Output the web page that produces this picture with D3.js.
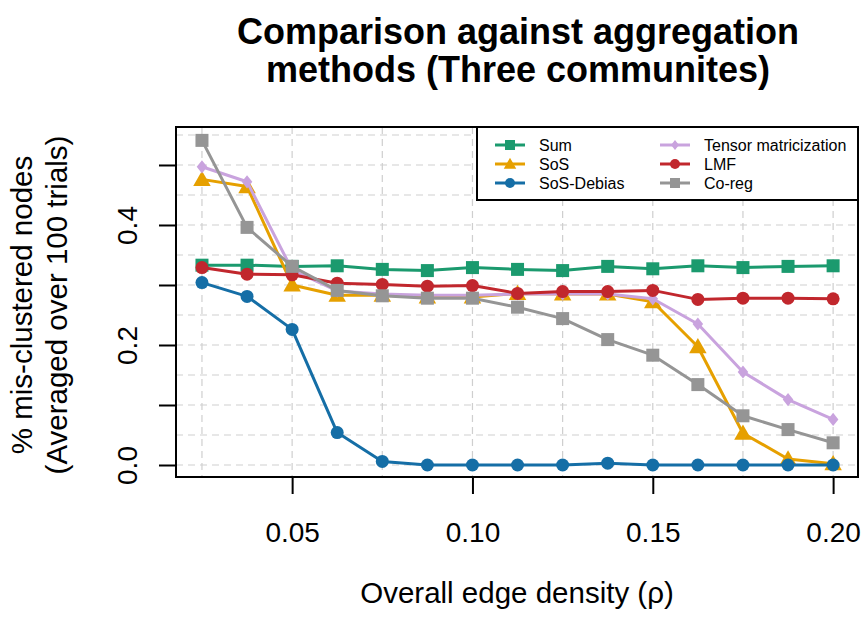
<!DOCTYPE html>
<html>
<head>
<meta charset="utf-8">
<script src="https://cdn.jsdelivr.net/npm/d3@7"></script>
<style>
  html, body { margin: 0; padding: 0; background: #fff; }
  svg { display: block; font-family: "Liberation Sans", Arial, sans-serif; }
</style>
</head>
<body>
<svg id="chart" width="867" height="618"></svg>
<script>
const densities = [0.025, 0.0375, 0.05, 0.0625, 0.075, 0.0875, 0.10, 0.1125, 0.125, 0.1375, 0.15, 0.1625, 0.175, 0.1875, 0.20];
const sumVals    = [0.333, 0.333, 0.331, 0.332, 0.326, 0.324, 0.329, 0.326, 0.324, 0.331, 0.327, 0.332, 0.329, 0.331, 0.332];
const sosVals    = [0.476, 0.464, 0.300, 0.283, 0.283, 0.280, 0.280, 0.286, 0.285, 0.285, 0.272, 0.197, 0.053, 0.010, 0.002];
const debiasVals = [0.304, 0.281, 0.226, 0.054, 0.006, 0.000, 0.000, 0.000, 0.000, 0.003, 0.000, 0.000, 0.000, 0.000, 0.000];
const tensorVals = [0.497, 0.472, 0.325, 0.290, 0.285, 0.283, 0.283, 0.285, 0.285, 0.285, 0.277, 0.235, 0.155, 0.109, 0.076];
const lmfVals    = [0.329, 0.318, 0.317, 0.303, 0.301, 0.298, 0.299, 0.286, 0.289, 0.289, 0.291, 0.276, 0.278, 0.278, 0.277];
const coregVals  = [0.541, 0.396, 0.331, 0.291, 0.282, 0.278, 0.278, 0.263, 0.244, 0.209, 0.183, 0.134, 0.082, 0.059, 0.037];
const seriesNames = ["Sum", "SoS", "SoS-Debias", "Tensor matricization", "LMF", "Co-reg"];
const xTicks = [0.05, 0.10, 0.15, 0.20];
const yTicks = [0.0, 0.1, 0.2, 0.3, 0.4, 0.5];
const yTickLabels = ["0.0", "", "0.2", "", "0.4", ""];
const titleLines = ["Comparison against aggregation", "methods (Three communites)"];
const yTitleLines = ["% mis-clustered nodes", "(Averaged over 100 trials)"];
const xTitle = "Overall edge density (\u03c1)";

const series = [
  {name: seriesNames[0], values: sumVals,    color: "#1b9a6e", shape: "square"},
  {name: seriesNames[1], values: sosVals,    color: "#e6a000", shape: "triangle"},
  {name: seriesNames[2], values: debiasVals, color: "#156ea6", shape: "circle"},
  {name: seriesNames[3], values: tensorVals, color: "#c9a3de", shape: "diamond"},
  {name: seriesNames[4], values: lmfVals,    color: "#c1272d", shape: "circle"},
  {name: seriesNames[5], values: coregVals,  color: "#959595", shape: "square"}
];

const svg = d3.select("#chart");
const L = 176, R = 858, T = 127, B = 477;
const x = d3.scaleLinear().domain([0.0178, 0.2069]).range([L, R]);
const y = d3.scaleLinear().domain([-0.02, 0.5633]).range([B, T]);
const FONT = "Liberation Sans, Arial, sans-serif";

// grid
const gridX = d3.range(0.025, 0.2001, 0.025);
const gridY = d3.range(0, 0.5501, 0.05);
svg.append("g").selectAll("line").data(gridX).join("line")
  .attr("x1", d => x(d)).attr("x2", d => x(d)).attr("y1", T).attr("y2", B)
  .attr("stroke", "#cfcfcf").attr("stroke-width", 1.2).attr("stroke-dasharray", "7,5");
svg.append("g").selectAll("line").data(gridY).join("line")
  .attr("x1", L).attr("x2", R).attr("y1", d => y(d)).attr("y2", d => y(d))
  .attr("stroke", "#cfcfcf").attr("stroke-width", 1.2).attr("stroke-dasharray", "7,5");

// axes
const xAxis = d3.axisBottom(x).tickValues(xTicks).tickFormat(d3.format(".2f")).tickSize(17).tickPadding(0);
const gx = svg.append("g").attr("transform", `translate(0,${B})`).call(xAxis);
gx.select(".domain").remove();
gx.selectAll(".tick line").attr("stroke", "#000").attr("stroke-width", 2);
gx.selectAll(".tick text").attr("font-size", 28).attr("fill", "#000").attr("font-family", FONT)
  .attr("y", 65).attr("dy", null);

const yAxis = d3.axisLeft(y).tickValues(yTicks).tickFormat((d, i) => yTickLabels[i]).tickSize(17).tickPadding(0);
const gy = svg.append("g").attr("transform", `translate(${L},0)`).call(yAxis);
gy.select(".domain").remove();
gy.selectAll(".tick line").attr("stroke", "#000").attr("stroke-width", 2);
gy.selectAll(".tick text")
  .attr("font-size", 28).attr("fill", "#000").attr("font-family", FONT)
  .attr("x", null).attr("dy", null)
  .attr("text-anchor", "middle")
  .attr("transform", "translate(-39,0) rotate(-90)");

// plot border
svg.append("rect").attr("x", L).attr("y", T).attr("width", R - L).attr("height", B - T)
  .attr("fill", "none").attr("stroke", "#000").attr("stroke-width", 2);

function drawMarker(g, shape, color, cx, cy, s) {
  if (shape === "square") {
    g.append("rect").attr("x", cx - s).attr("y", cy - s).attr("width", 2 * s).attr("height", 2 * s).attr("fill", color);
  } else if (shape === "circle") {
    g.append("circle").attr("cx", cx).attr("cy", cy).attr("r", s).attr("fill", color);
  } else if (shape === "triangle") {
    const h = s * 1.25;
    g.append("path").attr("d", `M${cx},${cy - h}L${cx + h},${cy + h * 0.75}L${cx - h},${cy + h * 0.75}Z`).attr("fill", color);
  } else if (shape === "diamond") {
    const h = s * 1.1;
    g.append("path").attr("d", `M${cx},${cy - h}L${cx + h * 0.8},${cy}L${cx},${cy + h}L${cx - h * 0.8},${cy}Z`).attr("fill", color);
  }
}

const line = d3.line().x((d, i) => x(densities[i])).y(d => y(d));
const sizes = {square: 6.5, circle: 6.5, triangle: 7, diamond: 6};
series.forEach(s => {
  const g = svg.append("g");
  g.append("path").datum(s.values).attr("d", line)
    .attr("fill", "none").attr("stroke", s.color).attr("stroke-width", 3).attr("stroke-linejoin", "round");
  s.values.forEach((v, i) => drawMarker(g, s.shape, s.color, x(densities[i]), y(v), sizes[s.shape]));
});

// legend
const lg = svg.append("g");
lg.append("rect").attr("x", 477).attr("y", T).attr("width", R - 477).attr("height", 73)
  .attr("fill", "#fff").attr("stroke", "#000").attr("stroke-width", 2);
series.forEach((s, i) => {
  const col = Math.floor(i / 3), row = i % 3;
  const lx = col === 0 ? 495 : 660;
  const ly = 145 + row * 19;
  lg.append("line").attr("x1", lx).attr("x2", lx + 30).attr("y1", ly).attr("y2", ly)
    .attr("stroke", s.color).attr("stroke-width", 3);
  drawMarker(lg, s.shape, s.color, lx + 15, ly, s.shape === "diamond" ? 4.5 : 5);
  lg.append("text").attr("x", lx + 44).attr("y", ly).attr("dy", "0.35em")
    .attr("font-size", 16).attr("fill", "#000").text(s.name);
});

// titles
svg.append("g").selectAll("text").data(titleLines).join("text")
  .attr("x", 518).attr("y", (d, i) => 44 + i * 38)
  .attr("text-anchor", "middle").attr("font-weight", "bold").attr("font-size", 36)
  .attr("fill", "#000").text(d => d);

svg.append("g").selectAll("text").data(yTitleLines).join("text")
  .attr("transform", (d, i) => `translate(${32 + i * 35},${305}) rotate(-90)`)
  .attr("text-anchor", "middle").attr("font-size", 29.5).attr("fill", "#000").text(d => d);

svg.append("text").attr("x", 517).attr("y", 603).attr("text-anchor", "middle")
  .attr("font-size", 29.5).attr("fill", "#000").text(xTitle);
</script>
</body>
</html>
